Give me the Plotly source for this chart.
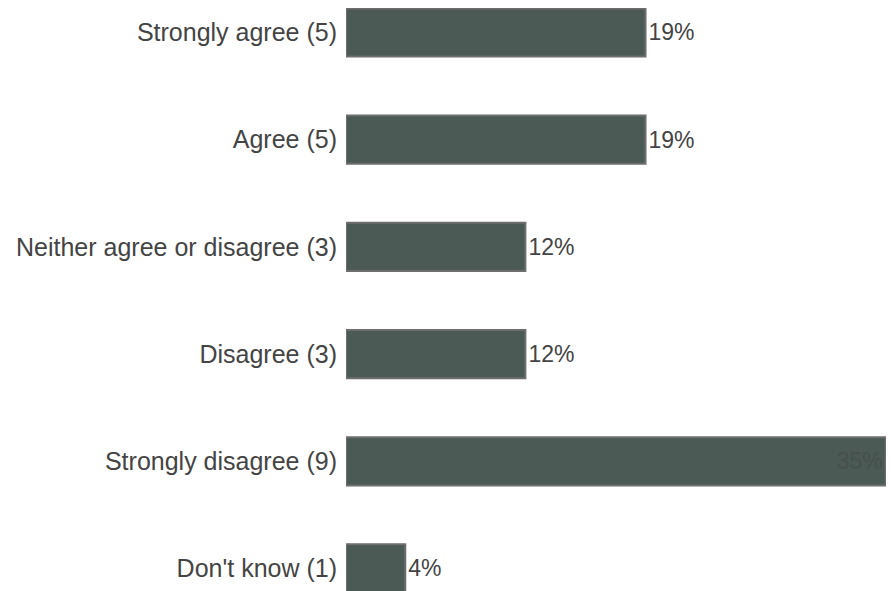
import plotly.graph_objects as go

# survey answers, counts in brackets, share of 26 replies
categories = ['Strongly agree (5)', 'Agree (5)', 'Neither agree or disagree (3)',
              'Disagree (3)', 'Strongly disagree (9)', "Don't know (1)"]
percent = [19.2, 19.2, 11.5, 11.5, 34.6, 3.8]
labels = ['19%', '19%', '12%', '12%', '35%', '4%']

# the widest bar has its label inside, the rest outside
positions = ['inside' if p == max(percent) else 'outside' for p in percent]
text_colors = ['#46504c' if p == max(percent) else '#444444' for p in percent]

fig = go.Figure()
fig.add_trace(go.Bar(
    x=percent,
    y=categories,
    orientation='h',
    text=labels,
    textposition=positions,
    insidetextanchor='end',
    textfont=dict(family='Liberation Sans, Arial', size=23, color=text_colors),
    marker=dict(color='#4b5a55', line=dict(color='#6e6e6e', width=2)),
    width=0.45,
    cliponaxis=False,
))

# page body adds 8px around the figure
fig.update_layout(
    width=886,
    height=583,
    margin=dict(l=338, r=2, t=0, b=0),
    paper_bgcolor='white',
    plot_bgcolor='white',
    showlegend=False,
    font=dict(family='Liberation Sans, Arial', size=25, color='#444444'),
    uniformtext=dict(mode=False),
)
fig.update_xaxes(range=[0, 35], visible=False, automargin=False)
fig.update_yaxes(
    categoryorder='array',
    categoryarray=categories,
    range=[5.21, -0.2285],
    showgrid=False,
    zeroline=False,
    showline=False,
    ticks='outside',
    ticklen=3,
    tickcolor='white',
    automargin=False,
    tickfont=dict(size=25),
)

fig.write_html("out.html")
